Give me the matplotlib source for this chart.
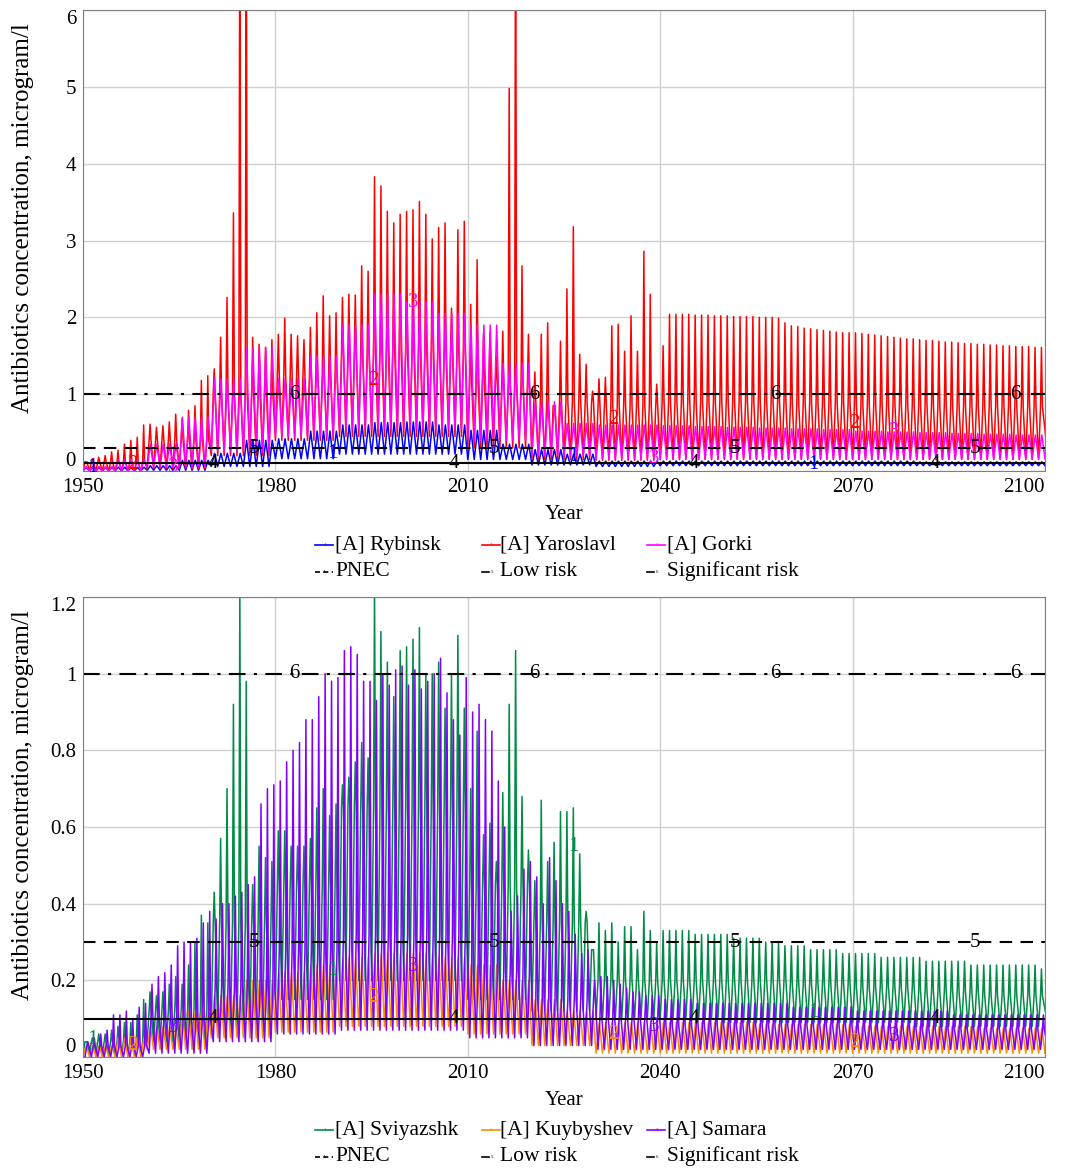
import numpy as np
import matplotlib.pyplot as plt
from matplotlib.lines import Line2D

plt.rcParams['font.family'] = ['Liberation Serif', 'DejaVu Serif']

years = np.arange(1950, 2100)

# ---- upper panel: Volga upper reservoirs ----
# Rybinsk: yearly peaks every 5 years, troughs per decade
rybinsk_peak_5y = [0.05, 0.05, 0.07, 0.14, 0.23, 0.40, 0.42, 0.52, 0.60, 0.63,
                   0.64, 0.60, 0.53, 0.35, 0.28, 0.22, 0.13, 0.13, 0.13, 0.13,
                   0.13, 0.13, 0.13, 0.13, 0.13, 0.13, 0.12, 0.12, 0.12, 0.12]
rybinsk_trough_10y = [0.0, 0.01, 0.06, 0.16, 0.22, 0.22, 0.15, 0.08, 0.06, 0.07,
                      0.07, 0.07, 0.07, 0.07, 0.07]

# Yaroslavl: yearly spike heights
yaroslavl_peak = [
    0.12, 0.16, 0.18, 0.20, 0.25, 0.27, 0.35, 0.40, 0.44, 0.60,
    0.61, 0.57, 0.59, 0.64, 0.74, 0.68, 0.79, 0.85, 1.18, 1.24,
    1.33, 1.74, 2.26, 3.36, 8.00, 8.00, 1.74, 1.65, 1.61, 1.71,
    1.78, 1.99, 1.78, 1.76, 1.71, 1.87, 2.06, 2.28, 2.02, 2.06,
    2.26, 2.30, 2.29, 2.67, 2.60, 3.83, 3.71, 3.38, 3.23, 3.34,
    3.38, 3.40, 3.51, 3.34, 3.02, 3.17, 3.23, 2.12, 3.14, 3.25,
    2.17, 2.75, 1.78, 1.80, 1.50, 1.82, 4.98, 8.00, 2.67, 1.78,
    1.29, 1.78, 1.93, 0.85, 1.69, 2.37, 3.18, 1.52, 1.39, 1.04,
    1.20, 1.22, 1.89, 1.91, 1.56, 2.02, 1.56, 2.86, 2.30, 1.13,
    1.63, 2.04, 2.04, 2.04, 2.04, 2.03, 2.03, 2.03, 2.02, 2.02,
    2.02, 2.01, 2.01, 2.01, 2.01, 2.00, 2.00, 2.00, 1.99, 1.93,
    1.89, 1.88, 1.86, 1.85, 1.84, 1.83, 1.82, 1.81, 1.80, 1.80,
    1.80, 1.79, 1.78, 1.77, 1.76, 1.75, 1.74, 1.73, 1.72, 1.72,
    1.71, 1.70, 1.70, 1.69, 1.68, 1.68, 1.67, 1.66, 1.66, 1.65,
    1.65, 1.64, 1.64, 1.63, 1.63, 1.62, 1.62, 1.62, 1.61, 1.61]
yaroslavl_shoulder_10y = [0.12, 0.40, 1.00, 1.25, 1.55, 1.55, 1.15, 0.90, 0.85, 0.90,
                          0.90, 0.88, 0.86, 0.85, 0.84]
yaroslavl_trough_10y = [0.0, 0.03, 0.20, 0.40, 0.45, 0.45, 0.30, 0.15, 0.14, 0.15,
                        0.15, 0.15, 0.15, 0.15, 0.15]

# Gorki: yearly peaks every 5 years, troughs per decade
gorki_peak_5y = [0.06, 0.15, 0.35, 0.70, 1.20, 1.60, 1.20, 1.50, 1.90, 2.30,
                 2.20, 2.05, 1.90, 1.40, 0.90, 0.62, 0.60, 0.60, 0.59, 0.58,
                 0.57, 0.56, 0.55, 0.54, 0.52, 0.51, 0.50, 0.49, 0.48, 0.47]
gorki_trough_10y = [0.0, 0.05, 0.25, 0.45, 0.55, 0.55, 0.40, 0.20, 0.16, 0.16,
                    0.16, 0.16, 0.16, 0.16, 0.16]

# ---- lower panel: middle Volga reservoirs ----
sviyazshk_peak = [
    0.04, 0.05, 0.06, 0.06, 0.07, 0.08, 0.09, 0.09, 0.11, 0.15,
    0.17, 0.16, 0.17, 0.19, 0.21, 0.19, 0.24, 0.30, 0.37, 0.35,
    0.43, 0.57, 0.70, 0.92, 1.22, 0.98, 0.45, 0.55, 0.52, 0.51,
    0.59, 0.59, 0.55, 0.55, 0.55, 0.57, 0.65, 0.70, 0.63, 0.66,
    0.71, 0.73, 0.77, 0.82, 0.78, 1.23, 1.11, 1.03, 0.94, 1.06,
    1.07, 1.09, 1.12, 1.00, 1.00, 1.03, 0.91, 1.00, 1.10, 0.91,
    0.70, 0.85, 0.58, 0.61, 0.51, 0.69, 0.92, 1.06, 0.68, 0.54,
    0.46, 0.67, 0.51, 0.56, 0.64, 0.64, 0.65, 0.53, 0.38, 0.28,
    0.35, 0.33, 0.35, 0.30, 0.34, 0.34, 0.28, 0.38, 0.33, 0.30,
    0.33, 0.33, 0.33, 0.33, 0.33, 0.32, 0.32, 0.32, 0.32, 0.32,
    0.32, 0.31, 0.31, 0.31, 0.31, 0.31, 0.30, 0.30, 0.30, 0.29,
    0.29, 0.29, 0.29, 0.28, 0.28, 0.28, 0.28, 0.28, 0.27, 0.27,
    0.27, 0.27, 0.27, 0.27, 0.26, 0.26, 0.26, 0.26, 0.26, 0.26,
    0.26, 0.25, 0.25, 0.25, 0.25, 0.25, 0.25, 0.25, 0.24, 0.24,
    0.24, 0.24, 0.24, 0.24, 0.24, 0.24, 0.24, 0.24, 0.24, 0.23]
sviyazshk_shoulder_10y = [0.04, 0.12, 0.35, 0.45, 0.65, 0.65, 0.45, 0.35, 0.20, 0.20,
                          0.20, 0.19, 0.18, 0.17, 0.16]
sviyazshk_trough_10y = [0.01, 0.04, 0.08, 0.15, 0.20, 0.20, 0.15, 0.12, 0.10, 0.10,
                        0.09, 0.09, 0.09, 0.08, 0.08]

kuybyshev_peak_5y = [0.03, 0.05, 0.08, 0.12, 0.16, 0.20, 0.22, 0.24, 0.26, 0.27,
                     0.27, 0.26, 0.24, 0.20, 0.15, 0.12, 0.09, 0.09, 0.09, 0.09,
                     0.09, 0.085, 0.085, 0.085, 0.08, 0.08, 0.08, 0.08, 0.075, 0.075]
kuybyshev_trough_10y = [0.0, 0.02, 0.05, 0.065, 0.08, 0.08, 0.06, 0.03, 0.01, 0.01,
                        0.01, 0.01, 0.01, 0.01, 0.01]

samara_peak = [
    0.04, 0.05, 0.06, 0.07, 0.11, 0.11, 0.12, 0.10, 0.13, 0.14,
    0.19, 0.21, 0.22, 0.24, 0.29, 0.30, 0.30, 0.31, 0.35, 0.38,
    0.36, 0.40, 0.40, 0.42, 0.43, 0.45, 0.47, 0.66, 0.70, 0.71,
    0.72, 0.77, 0.80, 0.82, 0.88, 0.88, 0.94, 1.00, 0.98, 0.99,
    1.06, 1.07, 1.05, 0.98, 0.98, 0.93, 1.00, 0.97, 1.01, 1.02,
    0.97, 1.01, 0.96, 0.98, 1.00, 1.04, 0.95, 0.88, 0.84, 0.99,
    0.90, 0.92, 0.88, 0.85, 0.72, 0.60, 0.38, 0.42, 0.49, 0.51,
    0.47, 0.40, 0.52, 0.46, 0.40, 0.38, 0.32, 0.27, 0.28, 0.20,
    0.21, 0.21, 0.20, 0.19, 0.18, 0.17, 0.17, 0.16, 0.16, 0.16,
    0.15, 0.15, 0.15, 0.15, 0.15, 0.14, 0.14, 0.14, 0.14, 0.14,
    0.14, 0.14, 0.14, 0.14, 0.14, 0.14, 0.14, 0.14, 0.14, 0.14,
    0.13, 0.13, 0.13, 0.13, 0.13, 0.13, 0.13, 0.13, 0.13, 0.13,
    0.12, 0.12, 0.12, 0.12, 0.12, 0.12, 0.12, 0.12, 0.12, 0.12,
    0.12, 0.12, 0.12, 0.12, 0.12, 0.11, 0.11, 0.11, 0.11, 0.11,
    0.11, 0.11, 0.11, 0.11, 0.11, 0.11, 0.11, 0.11, 0.11, 0.11]
samara_shoulder_10y = [0.03, 0.10, 0.18, 0.28, 0.32, 0.32, 0.22, 0.15, 0.10, 0.08,
                       0.08, 0.08, 0.07, 0.07, 0.07]
samara_trough_10y = [0.0, 0.01, 0.04, 0.06, 0.07, 0.07, 0.05, 0.03, 0.02, 0.02,
                     0.02, 0.02, 0.02, 0.02, 0.02]

pnec = 0.1
low_risk = 0.3
significant_risk = 1.0

x_ticks = [1950, 1980, 2010, 2040, 2070, 2100]

W, H = 1073, 1168


def per_year(values):
    values = np.asarray(values, dtype=float)
    return np.repeat(values, len(years) // len(values))


def spiky(peak, shoulder, trough, phase=0.0):
    # one spike per year: trough, slow rise, sharp peak, fall back
    peak = per_year(peak)
    shoulder = np.minimum(per_year(shoulder), peak)
    trough = per_year(trough)
    t, v = [1950.0], [trough[0]]
    for i, y in enumerate(years):
        t += [y + phase, y + phase + 0.3, y + phase + 0.45, y + phase + 0.6]
        v += [trough[i], shoulder[i], peak[i], shoulder[i]]
    t.append(2100.5)
    v.append(trough[-1])
    return np.array(t), np.array(v)


def wave(peak, trough):
    peak = per_year(peak)
    trough = per_year(trough)
    t, v = [], []
    for i, y in enumerate(years):
        t += [y, y + 0.5]
        v += [trough[i], peak[i]]
    t.append(2100)
    v.append(trough[-1])
    return np.array(t), np.array(v)


def number_marks(ax, t, v, k, color):
    for j in range(4):
        x = 1951.4 + (k - 1) * 6.3 + j * 37.5
        ax.text(x, np.interp(x, t, v), str(k), color=color, fontsize=15,
                ha='center', va='center', zorder=5)


def style_axes(ax, ymax, yticks, ylabels, label_y):
    ax.set_xlim(1950, 2100)
    ax.set_ylim(0, ymax)
    ax.set_xticks(x_ticks)
    ax.set_yticks(yticks)
    ax.set_yticklabels(ylabels)
    ax.tick_params(length=0, labelsize=15, pad=5)
    xl = ax.get_xticklabels()
    xl[-1].set_ha('right')
    yl = ax.get_yticklabels()
    yl[0].set_va('bottom')
    yl[-1].set_va('top')
    ax.grid(True, color='#d0d0d0', lw=1)
    ax.set_axisbelow(True)
    for s in ax.spines.values():
        s.set_color('#808080')
    ax.set_xlabel('Year', fontsize=15, labelpad=6)
    ax.set_ylabel('Antibiotics concentration, microgram/l', fontsize=18)
    ax.yaxis.set_label_coords(-0.051, label_y)


def risk_lines(ax):
    ax.axhline(pnec, color='black', lw=1.5, ls='-')
    ax.axhline(low_risk, color='black', lw=1.5, ls=(0, (6, 4)))
    ax.axhline(significant_risk, color='black', lw=1.5, ls=(0, (8, 4, 1.5, 4)))
    for k, val in [(4, pnec), (5, low_risk), (6, significant_risk)]:
        number_marks(ax, np.array([1950, 2100]), np.array([val, val]), k, 'black')


def legend(fig, names, colors, row_y):
    # hand placed, three columns of two rows (pixel positions of the original)
    col_x = [315, 482, 647]
    text_x = [335, 500, 667]
    items = [(names[0], colors[0], '-'), (names[1], colors[1], '-'), (names[2], colors[2], '-'),
             ('PNEC', 'black', (0, (3, 2))), ('Low risk', 'black', '-'),
             ('Significant risk', 'black', '-')]
    for i, (name, color, ls) in enumerate(items):
        r, c = divmod(i, 3)
        y = 1 - row_y[r] / H
        x0 = col_x[c]
        x1 = x0 + (18 if r == 0 or c == 0 else 7)
        fig.add_artist(Line2D([x0 / W, x1 / W], [y, y], color=color, lw=1.2, ls=ls))
        fig.text((x0 + 9.5) / W, y, str(i + 1), fontsize=3.5, color=color,
                 ha='center', va='center')
        fig.text(text_x[c] / W, y, name, fontsize=15.5, ha='left', va='center')


fig = plt.figure(figsize=(W / 100, H / 100), dpi=100)
ax1 = fig.add_axes([0.0774, 0.5967, 0.8965, 0.3947])
ax2 = fig.add_axes([0.0774, 0.0950, 0.8965, 0.3939])

# upper panel
top_colors = ['#0000ff', '#ff0000', '#ff00ff']
t1, v1 = wave(rybinsk_peak_5y, rybinsk_trough_10y)
t2, v2 = spiky(yaroslavl_peak, yaroslavl_shoulder_10y, yaroslavl_trough_10y)
t3, v3 = wave(gorki_peak_5y, gorki_trough_10y)
for k, (t, v, c) in enumerate([(t1, v1, top_colors[0]), (t2, v2, top_colors[1]),
                               (t3, v3, top_colors[2])], start=1):
    ax1.plot(t, v, color=c, lw=1.1)
    number_marks(ax1, t, v, k, c)
risk_lines(ax1)
style_axes(ax1, 6, range(0, 7), [str(i) for i in range(0, 7)], 0.548)

# lower panel
bot_colors = ['#008c46', '#ff8c00', '#8000ff']
t1, v1 = spiky(sviyazshk_peak, sviyazshk_shoulder_10y, sviyazshk_trough_10y)
t2, v2 = wave(kuybyshev_peak_5y, kuybyshev_trough_10y)
t3, v3 = spiky(samara_peak, samara_shoulder_10y, samara_trough_10y, phase=0.3)
for k, (t, v, c) in enumerate([(t1, v1, bot_colors[0]), (t2, v2, bot_colors[1]),
                               (t3, v3, bot_colors[2])], start=1):
    ax2.plot(t, v, color=c, lw=1.1)
    number_marks(ax2, t, v, k, c)
risk_lines(ax2)
style_axes(ax2, 1.2, np.arange(0, 1.21, 0.2), ['0', '0.2', '0.4', '0.6', '0.8', '1', '1.2'], 0.548)

legend(fig, ['[A] Rybinsk', '[A] Yaroslavl', '[A] Gorki'], top_colors, [545, 571.5])
legend(fig, ['[A] Sviyazshk', '[A] Kuybyshev', '[A] Samara'], bot_colors, [1130, 1156.5])

fig.savefig('out.png', dpi=100)
